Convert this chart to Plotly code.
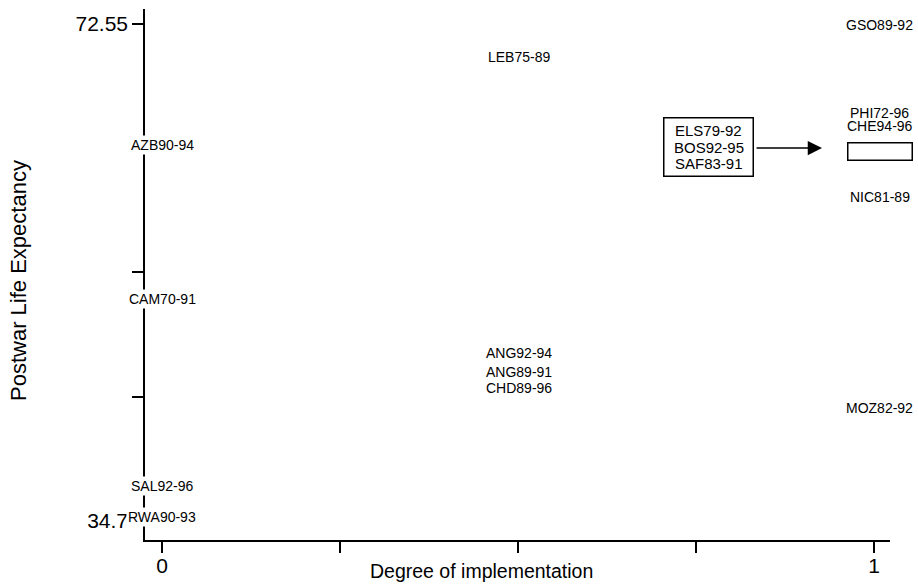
import plotly.graph_objects as go

# ---- data ----
labels_left = ["AZB90-94", "CAM70-91", "SAL92-96", "RWA90-93"]
deg_left = [0, 0, 0, 0]
life_left = [63.33, 51.61, 37.36, 35.00]

labels_mid = ["LEB75-89", "ANG92-94", "ANG89-91", "CHD89-96"]
deg_mid = [0.5, 0.5, 0.5, 0.5]
life_mid = [70.04, 47.49, 46.05, 44.83]

labels_right = ["GSO89-92", "PHI72-96", "CHE94-96", "NIC81-89", "MOZ82-92"]
deg_right = [1, 1, 1, 1, 1]
life_right = [72.47, 65.77, 64.78, 59.37, 43.30]

# the three cases shown in the call-out box, which sit at degree 1
boxed_labels = ["ELS79-92", "BOS92-95", "SAF83-91"]
boxed_deg = 1
boxed_life = 62.8
callout_deg = 0.768
callout_life = 63.2
arrow_tail_deg = 0.833
arrow_head_deg = 0.927
arrow_life = 63.1

y_ticks = [34.7, 44.1625, 53.625, 63.0875, 72.55]
y_ticktext = ["34.7", "", "", "", "72.55"]
x_ticks = [0, 0.25, 0.5, 0.75, 1]
x_ticktext = ["0", "", "", "", "1"]

FONT = "Liberation Sans, Arial, Helvetica, sans-serif"

fig = go.Figure()
fig.add_trace(go.Scatter(
    x=deg_left + deg_mid + deg_right,
    y=life_left + life_mid + life_right,
    text=labels_left + labels_mid + labels_right,
    mode="markers", marker=dict(size=1, opacity=0),
    hoverinfo="text", showlegend=False,
))

annotations = []
for xs, ys, ls, shift, bg in [(deg_left, life_left, labels_left, 0, "white"),
                              (deg_mid, life_mid, labels_mid, 1, None),
                              (deg_right, life_right, labels_right, 6, None)]:
    for x, y, t in zip(xs, ys, ls):
        a = dict(
            x=x, y=y, xref="x", yref="y", text=t, showarrow=False,
            xanchor="center", yanchor="middle", xshift=shift,
            font=dict(family=FONT, size=14, color="black"), borderpad=1,
        )
        if bg:
            a["bgcolor"] = bg
        annotations.append(a)

# empty rectangle at degree 1
annotations.append(dict(
    x=boxed_deg, y=boxed_life, xref="x", yref="y", text=" ", showarrow=False,
    xanchor="center", yanchor="middle", xshift=6, width=61, height=14,
    bordercolor="black", borderwidth=1.5, borderpad=1, bgcolor="white",
    font=dict(family=FONT, size=12),
))
# call-out box (frame) and its three lines
annotations.append(dict(
    x=callout_deg, y=callout_life, xref="x", yref="y", text=" ", showarrow=False,
    xanchor="center", yanchor="middle", width=86, height=55,
    bordercolor="black", borderwidth=1.5, borderpad=1, bgcolor="white",
    font=dict(family=FONT, size=12),
))
for i, t in enumerate(boxed_labels):
    annotations.append(dict(
        x=callout_deg, y=callout_life, xref="x", yref="y", text=t,
        showarrow=False, xanchor="center", yanchor="middle",
        yshift=16 - 16.5 * i,
        font=dict(family=FONT, size=15, color="black"),
    ))
# arrow
annotations.append(dict(
    x=arrow_head_deg, y=arrow_life, xref="x", yref="y",
    ax=arrow_tail_deg, ay=arrow_life, axref="x", ayref="y",
    text="", showarrow=True, arrowhead=2, arrowsize=1.9, arrowwidth=1.5,
    arrowcolor="black",
))
# axis titles
annotations.append(dict(
    x=0.449, y=-0.059, xref="x", yref="paper", text="Degree of implementation",
    showarrow=False, xanchor="center", yanchor="middle",
    font=dict(family=FONT, size=19.5, color="black"),
))
annotations.append(dict(
    x=-0.169, y=0.488, xref="paper", yref="paper", text="Postwar Life Expectancy",
    showarrow=False, xanchor="center", yanchor="middle", textangle=-90,
    font=dict(family=FONT, size=22, color="black"),
))

fig.update_layout(
    width=918, height=584,
    margin=dict(l=145, r=28, t=9, b=44, autoexpand=False),
    paper_bgcolor="white", plot_bgcolor="white",
    showlegend=False,
    annotations=annotations,
    xaxis=dict(
        range=[-0.0239, 1.0225], tickvals=x_ticks, ticktext=x_ticktext,
        showgrid=False, zeroline=False, showline=True, linecolor="black",
        linewidth=1.5, ticks="outside", ticklen=11, tickwidth=1.5,
        tickcolor="black", tickfont=dict(family=FONT, size=21, color="black"),
        ticklabelstandoff=-5,
        fixedrange=True, automargin=False,
    ),
    yaxis=dict(
        range=[33.25, 73.69], tickvals=y_ticks, ticktext=y_ticktext,
        showgrid=False, zeroline=False, showline=True, linecolor="black",
        linewidth=1.5, ticks="outside", ticklen=11, tickwidth=1.5,
        tickcolor="black", tickfont=dict(family=FONT, size=21, color="black"),
        fixedrange=True, automargin=False,
    ),
)

fig.write_html(
    "out.html",
    config={"displayModeBar": False},
    post_script="document.body.style.margin='0';document.body.style.overflow='hidden';",
)
